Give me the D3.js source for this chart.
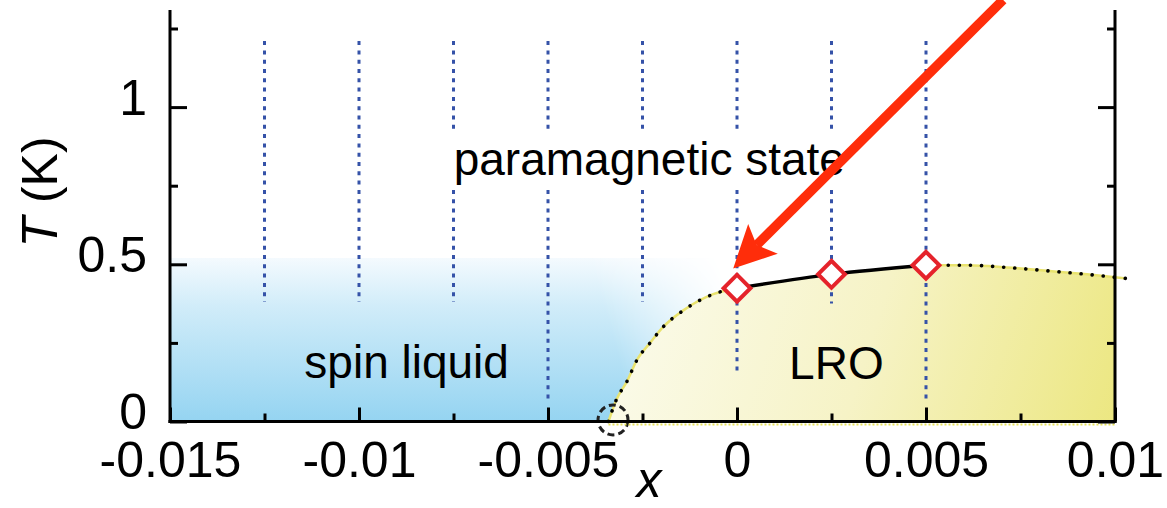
<!DOCTYPE html>
<html>
<head>
<meta charset="UTF-8">
<title>phase diagram</title>
<script src="https://cdn.jsdelivr.net/npm/d3@7"></script>
<style>
body { margin: 0; background: #fff; }
svg { display: block; font-family: "Liberation Sans", Arial, Helvetica, sans-serif; }
.tick line { stroke-width: 3px; }
</style>
</head>
<body>
<svg id="chart" width="1167" height="508"></svg>
<script>
// axis ticks
var xMajor = [-0.015, -0.01, -0.005, 0, 0.005, 0.01];
var xLabels = ["-0.015", "-0.01", "-0.005", "0", "0.005", "0.01"];
var xMinor = [-0.0125, -0.0075, -0.0025, 0.0025, 0.0075];
var yMajor = [0, 0.5, 1];
var yLabels = ["0", "0.5", "1"];
var yMinor = [0.25, 0.75, 1.25];

// measured compositions (blue dotted columns)
var colX = [-0.0125, -0.01, -0.0075, -0.005, -0.0025, 0, 0.0025, 0.005];
var colTop = [1.21, 1.21, 1.21, 1.21, 1.21, 1.21, 1.21, 1.21];
var colBottom = [0.38, 0.38, 0.38, 0.07, 0.38, 0.145, 0.375, 0.065];

// transition points (diamonds)
var markX = [0, 0.0025, 0.005];
var markT = [0.424, 0.468, 0.497];

// guessed boundary toward the spin liquid (dotted)
var leftX = [-0.0034, -0.0032, -0.0029, -0.00265, -0.0023, -0.00196, -0.0014, -0.00063, 0];
var leftT = [0, 0.067, 0.13, 0.195, 0.25, 0.30, 0.355, 0.405, 0.424];

// extrapolated boundary on the right (dotted)
var rightX = [0.005, 0.0061, 0.00714, 0.00833, 0.00926, 0.0103];
var rightT = [0.497, 0.497, 0.49, 0.478, 0.468, 0.455];

// region names
var regionNames = ["paramagnetic state", "spin liquid", "LRO"];
var regionX = [-0.00232, -0.00874, 0.00263];
var regionT = [0.783, 0.137, 0.134];

var svg = d3.select("#chart");
var x = d3.scaleLinear().domain([-0.015, 0.01]).range([170, 1115]);
var y = d3.scaleLinear().domain([0, 1.25]).range([421.5, 28.5]);
var yTop = 10;

var defs = svg.append("defs");
var bg = defs.append("linearGradient").attr("id", "blueV")
  .attr("x1", 0).attr("y1", 0).attr("x2", 0).attr("y2", 1);
bg.append("stop").attr("offset", 0).attr("stop-color", "#f4fafe");
bg.append("stop").attr("offset", 0.3).attr("stop-color", "#d0ecf9");
bg.append("stop").attr("offset", 1).attr("stop-color", "#95d4f1");

// fade the blue toward the top right corner
var fade = defs.append("linearGradient").attr("id", "fadeH")
  .attr("gradientUnits", "userSpaceOnUse")
  .attr("x1", x(-0.015)).attr("y1", y(0)).attr("x2", x(0)).attr("y2", y(0.52));
fade.append("stop").attr("offset", 0.76).attr("stop-color", "#fff");
fade.append("stop").attr("offset", 0.97).attr("stop-color", "#000");
defs.append("mask").attr("id", "blueMask")
  .append("rect").attr("x", x(-0.015)).attr("y", y(0.52))
  .attr("width", x(0) - x(-0.015)).attr("height", y(0) - y(0.52))
  .attr("fill", "url(#fadeH)");

var yg = defs.append("linearGradient").attr("id", "yellow")
  .attr("gradientUnits", "userSpaceOnUse")
  .attr("x1", x(-0.003)).attr("y1", y(0.5)).attr("x2", x(0.01)).attr("y2", y(0));
yg.append("stop").attr("offset", 0).attr("stop-color", "#fbfbec");
yg.append("stop").attr("offset", 0.5).attr("stop-color", "#f6f3c6");
yg.append("stop").attr("offset", 1).attr("stop-color", "#ece781");

defs.append("clipPath").attr("id", "plotClip")
  .append("rect").attr("x", x(-0.015)).attr("y", yTop)
  .attr("width", x(0.01) - x(-0.015)).attr("height", y(0) - yTop);

// spin liquid region
svg.append("rect")
  .attr("x", x(-0.015)).attr("y", y(0.52))
  .attr("width", x(0) - x(-0.015)).attr("height", y(0) - y(0.52))
  .attr("fill", "url(#blueV)").attr("mask", "url(#blueMask)");

// LRO region
var boundary = [];
leftX.forEach(function(d, i) { boundary.push([d, leftT[i]]); });
markX.forEach(function(d, i) { if (i > 0) boundary.push([d, markT[i]]); });
rightX.forEach(function(d, i) { if (i > 0) boundary.push([d, rightT[i]]); });

var area = d3.area().x(function(d) { return x(d[0]); })
  .y0(y(0)).y1(function(d) { return y(d[1]); }).curve(d3.curveMonotoneX);
svg.append("path").attr("d", area(boundary))
  .attr("fill", "url(#yellow)").attr("clip-path", "url(#plotClip)");

// blue dotted columns
svg.selectAll(".col").data(colX).enter().append("line")
  .attr("class", "col")
  .attr("x1", function(d) { return x(d); }).attr("x2", function(d) { return x(d); })
  .attr("y1", function(d, i) { return y(colTop[i]); })
  .attr("y2", function(d, i) { return y(colBottom[i]); })
  .attr("stroke", "#3552a8").attr("stroke-width", 3)
  .attr("stroke-dasharray", "4,5.3");

// region labels
svg.append("rect").attr("x", 446).attr("y", 129).attr("width", 406).attr("height", 59)
  .attr("fill", "#fff");
svg.selectAll(".region").data(regionNames).enter().append("text")
  .attr("class", "region")
  .attr("x", function(d, i) { return x(regionX[i]); })
  .attr("y", function(d, i) { return y(regionT[i]); })
  .attr("text-anchor", "middle").style("font-size", "46px").attr("fill", "#000")
  .text(function(d) { return d; });

// boundary lines
var line = d3.line().x(function(d) { return x(d[0]); }).y(function(d) { return y(d[1]); })
  .curve(d3.curveMonotoneX);
var leftPts = leftX.map(function(d, i) { return [d, leftT[i]]; });
var rightPts = rightX.map(function(d, i) { return [d, rightT[i]]; });
var solidPts = markX.map(function(d, i) { return [d, markT[i]]; });

[leftPts, rightPts].forEach(function(p) {
  svg.append("path").attr("d", line(p)).attr("fill", "none")
    .attr("stroke", "#e9e36e").attr("stroke-width", 2.5);
  svg.append("path").attr("d", line(p)).attr("fill", "none")
    .attr("stroke", "#000").attr("stroke-width", 3.6)
    .attr("stroke-linecap", "round").attr("stroke-dasharray", "0.1,11");
});
svg.append("path").attr("d", line(solidPts)).attr("fill", "none")
  .attr("stroke", "#000").attr("stroke-width", 3.4);

// dashed circle at the critical point
svg.append("circle").attr("cx", x(-0.00328)).attr("cy", y(0.005)).attr("r", 15)
  .attr("fill", "none").attr("stroke", "#222").attr("stroke-width", 3)
  .attr("stroke-dasharray", "7,4");

// yellow edge under the bottom axis
svg.append("line").attr("x1", x(-0.0034)).attr("x2", x(0.01))
  .attr("y1", y(0) + 3).attr("y2", y(0) + 3)
  .attr("stroke", "#e6e05a").attr("stroke-width", 2).attr("stroke-dasharray", "2,2");

// axes
var gx = svg.append("g").attr("transform", "translate(0," + y(0) + ")")
  .call(d3.axisBottom(x).tickValues(xMajor)
    .tickFormat(function(d, i) { return xLabels[i]; }).tickSize(-14).tickSizeOuter(0));
gx.select(".domain").remove();
gx.selectAll("text").attr("y", 55.5).attr("dy", null)
  .style("font-size", "50px").style("font-family", "Liberation Sans, Arial, sans-serif");
var gxm = svg.append("g").attr("transform", "translate(0," + y(0) + ")")
  .call(d3.axisBottom(x).tickValues(xMinor).tickFormat("").tickSize(-8).tickSizeOuter(0));
gxm.select(".domain").remove();

var gy = svg.append("g").attr("transform", "translate(" + x(-0.015) + ",0)")
  .call(d3.axisLeft(y).tickValues(yMajor)
    .tickFormat(function(d, i) { return yLabels[i]; }).tickSize(-17).tickSizeOuter(0));
gy.select(".domain").remove();
gy.selectAll("text").attr("x", -23).attr("dy", null).attr("y", 7)
  .style("font-size", "50px").style("font-family", "Liberation Sans, Arial, sans-serif");
var gym = svg.append("g").attr("transform", "translate(" + x(-0.015) + ",0)")
  .call(d3.axisLeft(y).tickValues(yMinor).tickFormat("").tickSize(-8).tickSizeOuter(0));
gym.select(".domain").remove();

var gr = svg.append("g").attr("transform", "translate(" + x(0.01) + ",0)")
  .call(d3.axisRight(y).tickValues(yMajor).tickFormat("").tickSize(-17).tickSizeOuter(0));
gr.select(".domain").remove();
var grm = svg.append("g").attr("transform", "translate(" + x(0.01) + ",0)")
  .call(d3.axisRight(y).tickValues(yMinor).tickFormat("").tickSize(-8).tickSizeOuter(0));
grm.select(".domain").remove();

svg.append("line").attr("x1", x(-0.015)).attr("x2", x(-0.015))
  .attr("y1", yTop).attr("y2", y(0) + 1.5).attr("stroke", "#000").attr("stroke-width", 3);
svg.append("line").attr("x1", x(0.01)).attr("x2", x(0.01))
  .attr("y1", yTop).attr("y2", y(0) + 1.5).attr("stroke", "#000").attr("stroke-width", 3);
svg.append("line").attr("x1", x(-0.015) - 1.5).attr("x2", x(0.01) + 1.5)
  .attr("y1", y(0)).attr("y2", y(0)).attr("stroke", "#000").attr("stroke-width", 3);

// axis titles
var yt = svg.append("text").attr("transform", "translate(57,192) rotate(-90)")
  .attr("text-anchor", "middle").style("font-size", "50px");
yt.append("tspan").style("font-style", "italic").text("T");
yt.append("tspan").text(" (K)");
svg.append("text").attr("x", 649).attr("y", 497).attr("text-anchor", "middle")
  .style("font-size", "50px").style("font-style", "italic").text("x");

// diamonds
svg.selectAll(".mark").data(markX).enter().append("path")
  .attr("class", "mark")
  .attr("d", d3.symbol(d3.symbolSquare, 360)())
  .attr("transform", function(d, i) {
    return "translate(" + x(d) + "," + y(markT[i]) + ") rotate(45)";
  })
  .attr("fill", "#fff").attr("stroke", "#e5232b").attr("stroke-width", 4);

// red arrow pointing at x = 0
var arrowFrom = [0.00704, 1.341];
var arrowTo = [-0.0001, 0.487];
var ax0 = x(arrowFrom[0]), ay0 = y(arrowFrom[1]);
var ax1 = x(arrowTo[0]), ay1 = y(arrowTo[1]);
var len = Math.hypot(ax1 - ax0, ay1 - ay0);
var ux = (ax1 - ax0) / len, uy = (ay1 - ay0) / len;
var px = -uy, py = ux;
var headL = 42, headW = 21, notch = 33;
svg.append("line").attr("x1", ax0).attr("y1", ay0)
  .attr("x2", ax1 - ux * notch).attr("y2", ay1 - uy * notch)
  .attr("stroke", "#ff2d0a").attr("stroke-width", 9.5);
svg.append("path").attr("d", d3.line()([
  [ax1, ay1],
  [ax1 - ux * headL + px * headW, ay1 - uy * headL + py * headW],
  [ax1 - ux * notch, ay1 - uy * notch],
  [ax1 - ux * headL - px * headW, ay1 - uy * headL - py * headW]
]) + "Z").attr("fill", "#ff2d0a");
</script>
</body>
</html>
